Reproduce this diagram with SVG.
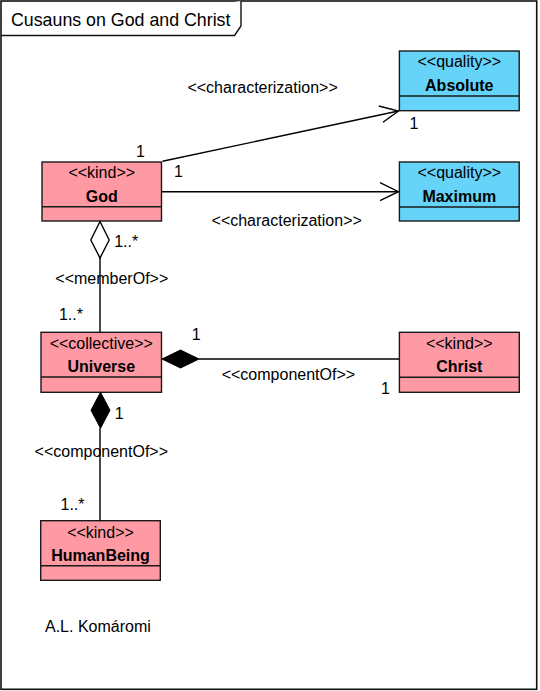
<svg xmlns="http://www.w3.org/2000/svg" width="540" height="691" viewBox="0 0 540 691">
<style>
text{font-family:"Liberation Sans",Arial,sans-serif;font-size:16px;fill:#000}
.st{text-anchor:middle}
.nm{text-anchor:middle;font-weight:bold}
.lb{text-anchor:middle}
.box{stroke:#1a1a1a;stroke-width:1.4}
.pink{fill:#FF99A3}
.blue{fill:#66D3F8}
.ln{stroke:#000;stroke-width:1.4;fill:none}
</style>
<rect width="540" height="691" fill="#fff"/>
<g id="frame">
<rect x="1" y="1" width="535.7" height="688.3" fill="none" stroke="#111" stroke-width="1.6"/>
<path d="M1,35.5 H234.5 L241,26 V1" fill="#fff" stroke="#111" stroke-width="1.4"/>
<text x="11" y="25.5" style="font-size:17.8px">Cusauns on God and Christ</text>
</g>
<g id="God">
<rect class="box pink" x="42" y="162" width="119.5" height="59"/>
<line class="box" x1="42" y1="206.7" x2="161.5" y2="206.7"/>
<text class="st" x="101.75" y="178">&lt;&lt;kind&gt;&gt;</text>
<text class="nm" x="101.75" y="202">God</text>
</g>
<g id="Absolute">
<rect class="box blue" x="399.4" y="51" width="119.8" height="59.7"/>
<line class="box" x1="399.4" y1="96" x2="519.2" y2="96"/>
<text class="st" x="459.3" y="67">&lt;&lt;quality&gt;&gt;</text>
<text class="nm" x="459.3" y="91">Absolute</text>
</g>
<g id="Maximum">
<rect class="box blue" x="399.4" y="162" width="119.8" height="59"/>
<line class="box" x1="399.4" y1="207" x2="519.2" y2="207"/>
<text class="st" x="459.3" y="178">&lt;&lt;quality&gt;&gt;</text>
<text class="nm" x="459.3" y="202">Maximum</text>
</g>
<g id="Universe">
<rect class="box pink" x="41" y="332.3" width="120.5" height="60"/>
<line class="box" x1="41" y1="377" x2="161.5" y2="377"/>
<text class="st" x="101.25" y="349">&lt;&lt;collective&gt;&gt;</text>
<text class="nm" x="101.25" y="372.3">Universe</text>
</g>
<g id="Christ">
<rect class="box pink" x="399.4" y="332.3" width="119.9" height="60"/>
<line class="box" x1="399.4" y1="377.3" x2="519.3" y2="377.3"/>
<text class="st" x="459.3" y="349">&lt;&lt;kind&gt;&gt;</text>
<text class="nm" x="459.3" y="372.3">Christ</text>
</g>
<g id="HumanBeing">
<rect class="box pink" x="40.7" y="520.7" width="119.6" height="59.6"/>
<line class="box" x1="40.7" y1="565.7" x2="160.3" y2="565.7"/>
<text class="st" x="100.5" y="537.5">&lt;&lt;kind&gt;&gt;</text>
<text class="nm" x="100.5" y="561">HumanBeing</text>
</g>
<g id="connectors">
<line class="ln" x1="162.5" y1="161.3" x2="398.4" y2="111"/>
<path class="ln" d="M378.8,106 L398.4,111 L383,122.3"/>
<line class="ln" x1="161.5" y1="191.7" x2="398.4" y2="191.7"/>
<path class="ln" d="M380,182.7 L398.4,191.7 L380,200.7"/>
<line class="ln" x1="100" y1="258" x2="100" y2="332.3"/>
<path d="M100,221.5 L109.2,240 L100,258 L90.8,240 Z" fill="#fff" stroke="#000" stroke-width="1.4"/>
<line class="ln" x1="199" y1="359" x2="399.4" y2="359"/>
<path d="M162,359 L180.5,350 L199,359 L180.5,368 Z" fill="#000" stroke="#000" stroke-width="1"/>
<line class="ln" x1="100" y1="428" x2="100" y2="520.7"/>
<path d="M100.5,392.3 L110,410.2 L100.5,428.3 L91,410.2 Z" fill="#000" stroke="#000" stroke-width="1"/>
<text class="lb" x="262.6" y="92.5">&lt;&lt;characterization&gt;&gt;</text>
<text class="lb" x="140.5" y="157">1</text>
<text class="lb" x="414" y="128.5">1</text>
<text class="lb" x="178.4" y="177">1</text>
<text class="lb" x="286.7" y="226">&lt;&lt;characterization&gt;&gt;</text>
<text class="lb" x="126.2" y="246.7">1..*</text>
<text class="lb" x="111.8" y="283.5">&lt;&lt;memberOf&gt;&gt;</text>
<text class="lb" x="70.9" y="320">1..*</text>
<text class="lb" x="196.3" y="339.5">1</text>
<text class="lb" x="288.4" y="380">&lt;&lt;componentOf&gt;&gt;</text>
<text class="lb" x="385.5" y="393.5">1</text>
<text class="lb" x="119.3" y="418.5">1</text>
<text class="lb" x="101.3" y="457.3">&lt;&lt;componentOf&gt;&gt;</text>
<text class="lb" x="72.5" y="510">1..*</text>
</g>
<text x="45" y="631.7">A.L. Komáromi</text>
</svg>
